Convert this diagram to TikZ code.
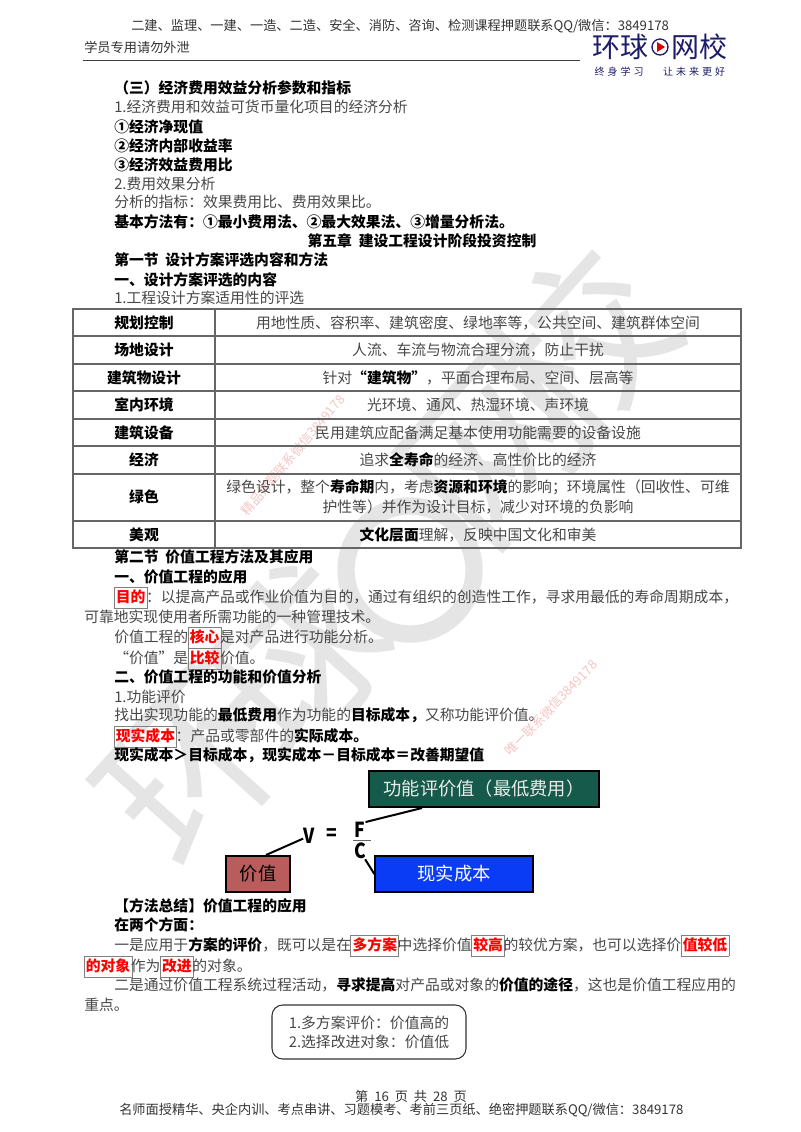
\documentclass[tikz,border=0pt]{standalone}
\usepackage{fontspec}
\usepackage{xcolor}
\setmainfont{Noto Sans CJK SC}
\usetikzlibrary{positioning}

\definecolor{thintext}{gray}{0.28}
\definecolor{marklight}{gray}{0.9}
\definecolor{logonavy}{HTML}{1C1C6B}
\definecolor{pinkmark}{HTML}{F4C4C4}
\definecolor{greenbox}{HTML}{155A4B}
\definecolor{redbox}{HTML}{B85C5C}
\definecolor{bluebox}{HTML}{0A3CF5}

\newcommand{\bd}[1]{{\bfseries\color{black}#1}}
\newcommand{\rmark}[1]{{\setlength{\fboxsep}{1pt}\setlength{\fboxrule}{0.7pt}\color{gray}\hspace{-0.5pt}\fbox{\color{red}\bfseries\rule[-3.5pt]{0pt}{12.5pt}#1}\hspace{-1.2pt}}}

\tikzset{
  body/.style={anchor=base west,inner sep=0pt,text=thintext,font=\fontsize{11.1}{14}\selectfont},
  head/.style={body,text=black,font=\fontsize{11.1}{14}\selectfont\bfseries},
  small/.style={anchor=base west,inner sep=0pt,text=black!80,font=\fontsize{9.9}{12}\selectfont},
  cell/.style={anchor=base,inner sep=0pt,text=thintext,font=\fontsize{11.1}{15}\selectfont,align=center},
  rowhead/.style={cell,text=black,font=\fontsize{11.1}{14}\selectfont\bfseries},
  bigmark/.style={rotate=48,inner sep=0pt,text=marklight,font=\fontsize{132}{132}\selectfont},
  pinktext/.style={inner sep=0pt,text=pinkmark,font=\fontsize{9.6}{10}\selectfont},
  colorbox/.style={draw=black,line width=1.5pt,inner sep=0pt,minimum height=27pt,font=\fontsize{13.7}{14}\selectfont},
  link/.style={draw=black,line width=1.5pt},
  eqpart/.style={inner sep=0pt,xscale=0.85,font=\fontsize{15.5}{15.5}\selectfont\bfseries}
}

\begin{document}
\begin{tikzpicture}[x=0.75pt,y=-0.75pt]
    \useasboundingbox (0,0) rectangle (800,1132);

    % Watermark behind the page
    \node[bigmark] (wm1) at (195,770) {环};
    \node[bigmark] (wm2) at (295,660) {球};
    \draw[marklight,line width=13pt] (410,570) circle (64);
    \node[bigmark] (wm3) at (495,450) {网};
    \node[bigmark] (wm4) at (580,345) {校};
    \node[pinktext,rotate=50] (pink1) at (293,455) {精品押题联系微信3849178};
    \node[pinktext,rotate=46] (pink2) at (551,708) {唯一联系微信3849178};

    % Page header
    \node[small] (toptext) at (131,30) {二建、监理、一建、一造、二造、安全、消防、咨询、检测课程押题联系QQ/微信：3849178};
    \node[small] (secret) at (84,52) {学员专用请勿外泄};
    \draw[black!75,line width=0.7pt] (83,60) -- (580,60);

    % Logo
    \node[inner sep=0pt,text=logonavy,font=\fontsize{21}{21}\selectfont] (logoa) at (620,47) {环球};
    \node[inner sep=0pt,text=logonavy,font=\fontsize{21}{21}\selectfont] (logob) at (699,47) {网校};
    \draw[logonavy,line width=1pt] (660,47) circle (8);
    \fill[red!85!black] (657,42) -- (665,47) -- (657,52) -- cycle;
    \node[inner sep=0pt,text=logonavy,font=\fontsize{7.5}{8}\selectfont\addfontfeature{LetterSpace=30}] (slogana) at (619,72) {终身学习};
    \node[inner sep=0pt,text=logonavy,font=\fontsize{7.5}{8}\selectfont\addfontfeature{LetterSpace=30}] (sloganb) at (694,72) {让未来更好};

    % First block of lines
    \node[head] (l01) at (114,93) {（三）经济费用效益分析参数和指标};
    \node[body] (l02) at (114,112) {1.经济费用和效益可货币量化项目的经济分析};
    \node[head] (l03) at (114,132) {①经济净现值};
    \node[head] (l04) at (114,151) {②经济内部收益率};
    \node[head] (l05) at (114,170) {③经济效益费用比};
    \node[body] (l06) at (114,189) {2.费用效果分析};
    \node[body] (l07) at (114,207) {分析的指标：效果费用比、费用效果比。};
    \node[head] (l08) at (114,227) {基本方法有：①最小费用法、②最大效果法、③增量分析法。};
    \node[head,anchor=base] (l09) at (422,246) {第五章\ \ 建设工程设计阶段投资控制};
    \node[head] (l10) at (114,265) {第一节\ \ 设计方案评选内容和方法};
    \node[head] (l11) at (114,285) {一、设计方案评选的内容};
    \node[body] (l12) at (114,303) {1.工程设计方案适用性的评选};

    % Table lines
    \draw[black!60,line width=0.8pt] (73,309) rectangle (741,548);
    \draw[black!60,line width=0.8pt] (215,309) -- (215,548);
    \foreach \yy in {336,364,391,419,446,474,521}
        \draw[black!60,line width=0.8pt] (73,\yy) -- (741,\yy);

    % Table rows
    \node[rowhead] (r1) at (144,328) {规划控制};
    \node[cell] (c1) at (478,328) {用地性质、容积率、建筑密度、绿地率等，公共空间、建筑群体空间};
    \node[rowhead] (r2) at (144,355) {场地设计};
    \node[cell] (c2) at (478,355) {人流、车流与物流合理分流，防止干扰};
    \node[rowhead] (r3) at (144,383) {建筑物设计};
    \node[cell] (c3) at (478,383) {针对\bd{“建筑物”}，平面合理布局、空间、层高等};
    \node[rowhead] (r4) at (144,410) {室内环境};
    \node[cell] (c4) at (478,410) {光环境、通风、热湿环境、声环境};
    \node[rowhead] (r5) at (144,438) {建筑设备};
    \node[cell] (c5) at (478,438) {民用建筑应配备满足基本使用功能需要的设备设施};
    \node[rowhead] (r6) at (144,465) {经济};
    \node[cell] (c6) at (478,465) {追求\bd{全寿命}的经济、高性价比的经济};
    \node[rowhead] (r7) at (144,502) {绿色};
    \node[cell] (c7) at (478,512) {绿色设计，整个\bd{寿命期}内，考虑\bd{资源和环境}的影响；环境属性（回收性、可维\\护性等）并作为设计目标，减少对环境的负影响};
    \node[rowhead] (r8) at (144,540) {美观};
    \node[cell] (c8) at (478,540) {\bd{文化层面}理解，反映中国文化和审美};

    % Second block of lines
    \node[head] (l13) at (114,562) {第二节\ \ 价值工程方法及其应用};
    \node[head] (l14) at (114,582) {一、价值工程的应用};
    \node[body] (l15) at (114,602) {\rmark{目的}：以提高产品或作业价值为目的，通过有组织的创造性工作，寻求用最低的寿命周期成本，};
    \node[body] (l16) at (84,622) {可靠地实现使用者所需功能的一种管理技术。};
    \node[body] (l17) at (114,642) {价值工程的\rmark{核心}是对产品进行功能分析。};
    \node[body] (l18) at (114,663) {“价值”是\rmark{比较}价值。};
    \node[head] (l19) at (114,682) {二、价值工程的功能和价值分析};
    \node[body] (l20) at (114,702) {1.功能评价};
    \node[body] (l21) at (114,720) {找出实现功能的\bd{最低费用}作为功能的\bd{目标成本，}又称功能评价值。};
    \node[body] (l22) at (114,741) {\rmark{现实成本}：产品或零部件的\bd{实际成本。}};
    \node[head] (l23) at (114,760) {现实成本＞目标成本，现实成本－目标成本＝改善期望值};

    % Value formula
    \node[colorbox,fill=greenbox,text=white!92!black,minimum width=173pt] (green) at (484,789) {功能评价值（最低费用）};
    \node[colorbox,fill=redbox,text=black,minimum width=48pt] (red) at (258,874) {价值};
    \node[colorbox,fill=bluebox,text=white,minimum width=118pt] (blue) at (454,874) {现实成本};
    \node[eqpart] (V) at (309,836) {V};
    \node[eqpart] (eq) at (332,835) {=};
    \node[eqpart] (F) at (360,830) {F};
    \node[eqpart] (C) at (360,851) {C};
    \draw[black!60,line width=0.5pt] (353,840) -- (371,840);
    \coordinate (gtail) at (422,808);
    \coordinate (rtail) at (266,855);
    \draw[link] (gtail) -- (F.north east);
    \draw[link] (rtail) -- (V);
    \draw[link] (C) -- (blue.west);

    % Summary block
    \node[head] (l24) at (114,911) {【方法总结】价值工程的应用};
    \node[head] (l25) at (114,930) {在两个方面：};
    \node[body] (l26) at (114,950) {一是应用于\bd{方案的评价}，既可以是在\rmark{多方案}中选择价值\rmark{较高}的较优方案，也可以选择价\rmark{值较低}};
    \node[body] (l27) at (84,971) {\rmark{的对象}作为\rmark{改进}的对象。};
    \node[body] (l28) at (114,990) {二是通过价值工程系统过程活动，\bd{寻求提高}对产品或对象的\bd{价值的途径}，这也是价值工程应用的};
    \node[body] (l29) at (84,1010) {重点。};
    \node[draw=black!80,line width=0.8pt,rounded corners=8pt,minimum width=145.5pt,minimum height=40.5pt,inner sep=0pt,text=thintext,align=left,font=\fontsize{11.1}{14.3}\selectfont] (summary) at (369,1032) {1.多方案评价：价值高的\\2.选择改进对象：价值低};

    % Page footer
    \node[small,anchor=base] (pagenum) at (411,1101) {第\ \ 16\ \ 页\ \ 共\ \ 28\ \ 页};
    \node[small] (bottomtext) at (119,1114) {名师面授精华、央企内训、考点串讲、习题模考、考前三页纸、绝密押题联系QQ/微信：3849178};
\end{tikzpicture}
\end{document}
